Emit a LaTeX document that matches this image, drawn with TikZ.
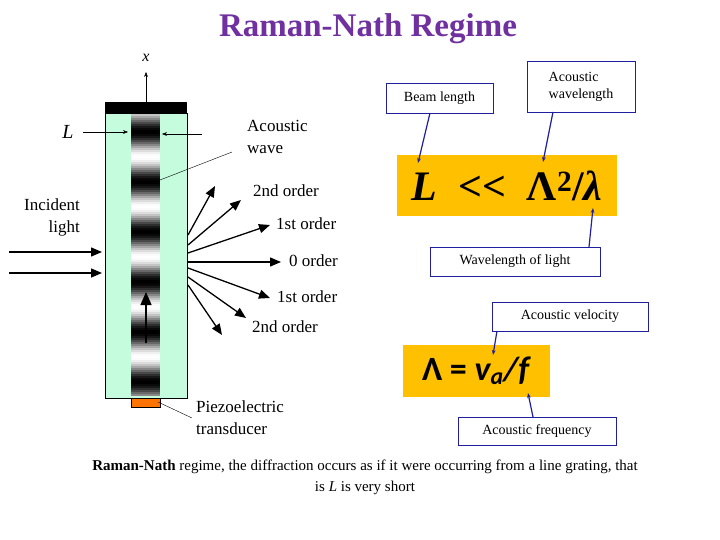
\documentclass[tikz,border=0pt]{standalone}
\usepackage{fontspec}
\setmainfont{Liberation Serif}
\newfontfamily\carl{Carlito}
\usetikzlibrary{arrows.meta}
\definecolor{ttl}{HTML}{7030A0}
\definecolor{cell}{HTML}{C4FCDD}
\definecolor{gold}{HTML}{FFC000}
\definecolor{navy}{HTML}{1F1FA0}
\begin{document}
\begin{tikzpicture}[x=1pt,y=-1pt,
  lbl/.style={font=\fontsize{17}{22}\selectfont,inner sep=0},
  box/.style={draw=navy,fill=white,font=\fontsize{14}{17}\selectfont,align=left},
  pt/.style={-{Stealth[length=5pt]},navy,line width=1.2pt},
  ray/.style={-{Triangle[length=11pt,width=9pt]},line width=1.3pt},
  thin/.style={-{Stealth[length=5pt]},line width=0.4pt}]
\useasboundingbox (0,0) rectangle (720,540);
\node[font=\bfseries\fontsize{33}{33}\selectfont,text=ttl] (title) at (368,29) {Raman-Nath Regime};
% cell
\fill[cell] (105,113) rectangle (187,398);
\draw[line width=0.5pt] (105,113) rectangle (187,398);
\fill[black] (105,102) rectangle (187,113);
\foreach \yy in {114,116,...,394}{
  \pgfmathsetmacro\g{50+50*cos(7.2*(\yy-131))}
  \fill[black!\g!white] (131,\yy) rectangle (160,\yy+2.2);
}
\fill[orange!90!red] (131,398) rectangle (160,407);
\draw[line width=0.4pt] (131,398) rectangle (160,407);
\coordinate (xb) at (146,102);
\coordinate (xt) at (146,72);
\draw[thin] (xb) -- (xt);
\node[font=\itshape\fontsize{16}{16}\selectfont] (xl) at (146,58) {x};
\node[font=\itshape\fontsize{20}{20}\selectfont] (L) at (68,132) {L};
\coordinate (la) at (128,132); \coordinate (rb) at (202,134); \coordinate (ra) at (162,134);
\draw[thin] (L.east) ++(6,0) -- (la);
\draw[thin] (rb) -- (ra);
\node[lbl,align=left,anchor=west] (aw) at (247,137) {Acoustic\\wave};
\coordinate (awp) at (160,180);
\draw[line width=0.4pt] (232,152) -- (awp);
\node[lbl,align=right,anchor=east] (inc) at (80,217) {Incident\\light};
\coordinate (i1) at (9,252); \coordinate (i1e) at (102,252);
\coordinate (i2) at (9,273); \coordinate (i2e) at (102,273);
\draw[ray] (i1) -- (i1e);
\draw[ray] (i2) -- (i2e);
\draw[-{Triangle[length=13pt,width=11pt]},line width=1.3pt] (146,343) -- (146,292);
% rays
\coordinate (o) at (188,262);
\draw[ray] (188,235) -- (215,186);
\draw[ray] (188,245) -- (241,200);
\draw[ray] (188,253) -- (270,225);
\draw[ray] (o) -- (281,262);
\draw[ray] (188,268) -- (270,298);
\draw[ray] (188,277) -- (246,318);
\draw[ray] (188,285) -- (222,335);
\node[lbl,anchor=west] (o2a) at (253,191) {2nd order};
\node[lbl,anchor=west] (o1a) at (276,224) {1st order};
\node[lbl,anchor=west] (o0) at (289,261) {0 order};
\node[lbl,anchor=west] (o1b) at (277,297) {1st order};
\node[lbl,anchor=west] (o2b) at (252,327) {2nd order};
\node[lbl,align=left,anchor=west] (pz) at (196,418) {Piezoelectric\\transducer};
\coordinate (pzp) at (158,402);
\draw[line width=0.4pt] (pzp) -- (192,418);
% right side
\node[box,minimum width=107pt,minimum height=30pt] (bl) at (439.5,98) {Beam length};
\node[box,minimum width=108pt,minimum height=51pt,inner sep=3pt] (awl) at (581,86.5) {Acoustic\\wavelength};
\node[fill=gold,minimum width=220pt,minimum height=61pt,font=\bfseries\fontsize{42}{42}\selectfont] (eq1) at (507,185.5) {\textit{L}\ \ {<}{<}\ \ Λ\textsuperscript{2}/\textit{λ}};
\node[box,minimum width=170pt,minimum height=29pt] (wl) at (515,261.5) {Wavelength of light};
\node[box,minimum width=156pt,minimum height=29pt] (av) at (570,316.5) {Acoustic velocity};
\node[fill=gold,minimum width=147pt,minimum height=52pt,font=\carl\bfseries\fontsize{34}{34}\selectfont] (eq2) at (476.5,371) {Λ = \textit{v\textsubscript{a}/f}};
\node[box,minimum width=158pt,minimum height=28pt] (af) at (537,431) {Acoustic frequency};
\coordinate (p1) at (418,163); \coordinate (p2) at (543,162); \coordinate (p3) at (593,208);
\coordinate (p4) at (493,355); \coordinate (p5) at (528,393);
\draw[pt] (430,113) -- (p1);
\draw[pt] (553,112) -- (p2);
\draw[pt] (589,247) -- (p3);
\draw[pt] (497,331) -- (p4);
\draw[pt] (533,417) -- (p5);
\node[font=\fontsize{15}{21}\selectfont,align=center] (cap) at (365,477) {\textbf{Raman-Nath} regime, the diffraction occurs as if it were occurring from a line grating, that\\is \textit{L} is very short};
\end{tikzpicture}
\end{document}
